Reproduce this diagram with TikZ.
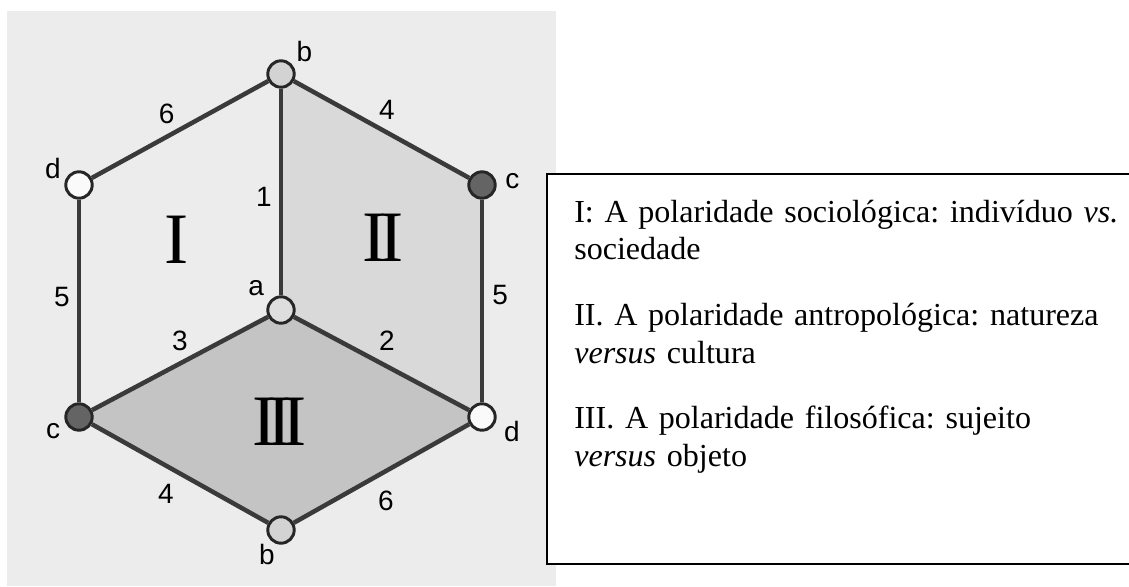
\documentclass[tikz,border=0pt]{standalone}
\usepackage{fontspec}
\setmainfont{Liberation Serif}
\newfontfamily\lblfont{Liberation Sans}
\usetikzlibrary{backgrounds}

\definecolor{panelgray}{HTML}{ECECEC}
\definecolor{facetwo}{HTML}{D9D9D9}
\definecolor{facethree}{HTML}{C4C4C4}
\definecolor{edgegray}{HTML}{3A3A3A}
\definecolor{rimgray}{HTML}{262626}
\definecolor{vlight}{HTML}{D3D3D3}
\definecolor{vwhite}{HTML}{FAFAFA}
\definecolor{vdark}{HTML}{646464}
\definecolor{vpale}{HTML}{DEDEDE}

\tikzset{
  vert/.style={circle,draw=rimgray,line width=2.1pt,minimum size=0.66cm,inner sep=0pt},
  cubeline/.style={draw=edgegray,line width=3.2pt},
  edgenum/.style={font=\lblfont\fontsize{19.9}{24}\selectfont,inner sep=0pt},
  facenum/.style={font=\fontsize{51.5}{60}\selectfont,inner sep=0pt},
  legendbox/.style={draw=black,line width=1.8pt,fill=white}
}

\begin{document}
\frenchspacing
\begin{tikzpicture}[x=0.025cm,y=-0.025cm,label distance=3.5pt,
  every label/.style={font=\lblfont\fontsize{19.9}{24}\selectfont,inner sep=1pt}]
			\useasboundingbox (0,0) rectangle (1129,586);
			
			\node[vert,fill=vlight,label={[yshift=-2.5pt]45:b}] (B1) at (281,74) {};
			\node[vert,fill=vwhite,label={[yshift=-4pt]148:d}] (D1) at (79,185) {};
			\node[vert,fill=vdark,label={[xshift=1.5pt,yshift=3pt]0:c}] (C1) at (482,185) {};
			\node[vert,fill=vpale,label=142:a] (A) at (281,310) {};
			\node[vert,fill=vdark,label={[yshift=3.5pt]209:c}] (C2) at (79,417) {};
			\node[vert,fill=vwhite,label={[xshift=2.5pt,yshift=5pt]-30:d}] (D2) at (482,417) {};
			\node[vert,fill=vlight,label={[xshift=3.5pt,yshift=3.5pt]241:b}] (B2) at (281,530) {};
			
			\begin{scope}[on background layer]
				\fill[panelgray] (7,11) rectangle (556,586);
				\fill[facetwo] (B1.center)--(C1.center)--(D2.center)--(A.center)--cycle;
				\fill[facethree] (A.center)--(D2.center)--(B2.center)--(C2.center)--cycle;
			\end{scope}
			
			\draw[cubeline] (D1)--(B1) node[midway,edgenum,above left=4.3pt,xshift=2pt,yshift=-1.5pt]{6};
			\draw[cubeline] (B1)--(C1) node[midway,edgenum,above=5.3pt,xshift=3.9pt]{4};
			\draw[cubeline] (B1)--(A) node[midway,edgenum,left=5pt,yshift=-3.6pt]{1};
			\draw[cubeline] (D1)--(C2) node[midway,edgenum,left=5pt,yshift=2.8pt]{5};
			\draw[cubeline] (C1)--(D2) node[midway,edgenum,right=5.7pt,yshift=4.3pt]{5};
			\draw[cubeline] (A)--(C2) node[midway,edgenum,above=7.5pt]{3};
			\draw[cubeline] (A)--(D2) node[midway,edgenum,above=7.5pt,xshift=3.9pt]{2};
			\draw[cubeline] (C2)--(B2) node[midway,edgenum,below=6pt,xshift=-10pt]{4};
			\draw[cubeline] (B2)--(D2) node[midway,edgenum,below=11pt,xshift=3.2pt]{6};
			
			\node[facenum] (F1) at (177,240) {I};
			\node[facenum] (F2) at (383,238) {I\kern-5pt I};
			\node[facenum] (F3) at (280,422) {I\kern-6.5pt I\kern-6.5pt I};
			
			\draw[legendbox] (547,174) rectangle (1135,564);
			\node[anchor=base west,text width=14.6cm,align=left,inner sep=0pt,
			font=\fontsize{22.8}{27}\selectfont] (L) at (574,222)
			{I: A polaridade sociológica: indivíduo \textit{vs.}\\
				sociedade\\[19.5pt]
				II. A polaridade antropológica: natureza\\
				\textit{versus} cultura\\[19.5pt]
				III. A polaridade filosófica: sujeito\\
				\textit{versus} objeto};
		\end{tikzpicture}
\end{document}
